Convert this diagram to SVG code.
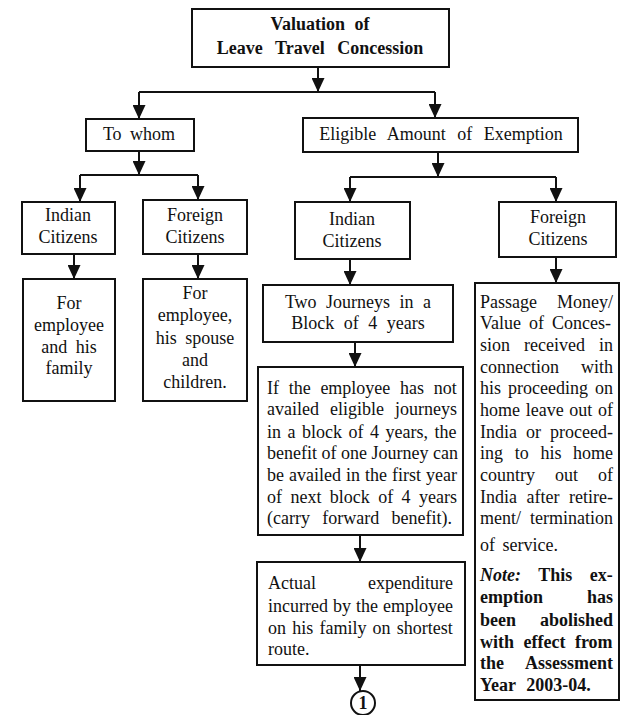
<svg xmlns="http://www.w3.org/2000/svg" width="633" height="715" viewBox="0 0 633 715">
<defs>
<marker id="ah" markerUnits="userSpaceOnUse" markerWidth="14" markerHeight="13" refX="14" refY="6.5" orient="auto" viewBox="0 0 14 13">
<path d="M0,0 L14,6.5 L0,13 Z" fill="#111"/>
</marker>
<style>
.box{fill:#fff;stroke:#111;stroke-width:2}
.ln{fill:none;stroke:#111;stroke-width:2}
.ar{fill:none;stroke:#111;stroke-width:2;marker-end:url(#ah)}
text{font-family:"Liberation Serif","Times New Roman",serif;font-size:18px;fill:#111}
.c{text-anchor:middle}
.e{text-anchor:end}
.b{font-weight:bold}
</style>
</defs>
<rect width="633" height="715" fill="#fff"/>
<g id="connectors">
<path class="ar" d="M318,67 V92"/>
<path class="ln" d="M139,92 H435"/>
<path class="ar" d="M139,92 V119"/>
<path class="ar" d="M435,92 V118"/>
<path class="ar" d="M139,151 V175"/>
<path class="ln" d="M80,175 H198"/>
<path class="ar" d="M80,175 V202"/>
<path class="ar" d="M198,175 V200"/>
<path class="ar" d="M438,152 V177"/>
<path class="ln" d="M350,177 H556"/>
<path class="ar" d="M350,177 V202"/>
<path class="ar" d="M556,177 V202"/>
<path class="ar" d="M74,254 V279"/>
<path class="ar" d="M198,254 V279"/>
<path class="ar" d="M350,259 V285"/>
<path class="ar" d="M556,257 V283"/>
<path class="ar" d="M355,342 V367"/>
<path class="ar" d="M360,535 V562"/>
<path class="ar" d="M360,665 V691"/>
</g>
<g id="title">
<rect class="box" x="192" y="9" width="257" height="58"/>
<text class="c b" x="320" y="30" font-size="19" word-spacing="5">Valuation of</text>
<text class="c b" x="320" y="54" font-size="19" word-spacing="8">Leave Travel Concession</text>
</g>
<g id="to-whom">
<rect class="box" x="86" y="119" width="108" height="32"/>
<text class="c" x="139" y="140" word-spacing="4">To whom</text>
</g>
<g id="eligible">
<rect class="box" x="303" y="118" width="275" height="34"/>
<text class="c" x="441" y="140" word-spacing="7">Eligible Amount of Exemption</text>
</g>
<g id="indian-left">
<rect class="box" x="22" y="202" width="93" height="52"/>
<text class="c" x="68" y="221">Indian</text>
<text class="c" x="68" y="243">Citizens</text>
</g>
<g id="foreign-left">
<rect class="box" x="143" y="200" width="104" height="54"/>
<text class="c" x="195" y="221">Foreign</text>
<text class="c" x="195" y="243">Citizens</text>
</g>
<g id="family-left">
<rect class="box" x="23" y="279" width="92" height="122"/>
<text class="c" x="69" y="309">For</text>
<text class="c" x="69" y="331">employee</text>
<text class="c" x="69" y="353" word-spacing="4">and his</text>
<text class="c" x="69" y="374">family</text>
</g>
<g id="family-foreign">
<rect class="box" x="143" y="279" width="104" height="122"/>
<text class="c" x="195" y="299">For</text>
<text class="c" x="195" y="321">employee,</text>
<text class="c" x="195" y="344" word-spacing="4">his spouse</text>
<text class="c" x="195" y="366">and</text>
<text class="c" x="195" y="388">children.</text>
</g>
<g id="indian-mid">
<rect class="box" x="295" y="202" width="115" height="57"/>
<text class="c" x="352" y="225">Indian</text>
<text class="c" x="352" y="247">Citizens</text>
</g>
<g id="foreign-right">
<rect class="box" x="499" y="202" width="117" height="55"/>
<text class="c" x="558" y="223">Foreign</text>
<text class="c" x="558" y="245">Citizens</text>
</g>
<g id="two-journeys">
<rect class="box" x="263" y="285" width="190" height="57"/>
<text class="c" x="358" y="308" word-spacing="5">Two Journeys in a</text>
<text class="c" x="358" y="329" word-spacing="5">Block of 4 years</text>
</g>
<g id="carry-forward">
<rect class="box" x="258" y="367" width="205" height="168"/>
<text x="267" y="394" word-spacing="5.2">If the employee has not</text>
<text x="267" y="415" word-spacing="6.5">availed eligible journeys</text>
<text x="267" y="438" word-spacing="2">in a block of 4 years, the</text>
<text x="267" y="459">benefit of one Journey can</text>
<text x="267" y="481" word-spacing="0.5">be availed in the first year</text>
<text x="267" y="503" word-spacing="3.9">of next block of 4 years</text>
<text x="267" y="524" word-spacing="7.8">(carry forward benefit).</text>
</g>
<g id="actual">
<rect class="box" x="257" y="562" width="208" height="103"/>
<text x="268" y="589">Actual</text>
<text class="e" x="453" y="589">expenditure</text>
<text x="268" y="612" word-spacing="0.5">incurred by the employee</text>
<text x="268" y="634" word-spacing="1.7">on his family on shortest</text>
<text x="268" y="655">route.</text>
</g>
<g id="passage">
<rect class="box" x="475" y="283" width="144" height="417"/>
<text x="480" y="308">Passage</text><text class="e" x="613" y="308">Money/</text>
<text x="480" y="329" word-spacing="3.5">Value of Conces-</text>
<text x="480" y="351" word-spacing="9.5">sion received in</text>
<text x="480" y="373">connection</text><text class="e" x="613" y="373">with</text>
<text x="480" y="394" word-spacing="2.5">his proceeding on</text>
<text x="480" y="416" word-spacing="1.2">home leave out of</text>
<text x="480" y="438" word-spacing="4.5">India or proceed-</text>
<text x="480" y="459" word-spacing="7.2">ing to his home</text>
<text x="480" y="481" word-spacing="15.5">country out of</text>
<text x="480" y="503" word-spacing="5">India after retire-</text>
<text x="480" y="524" word-spacing="4.5">ment/ termination</text>
<text x="480" y="551" word-spacing="3">of service.</text>
<text class="b" x="480" y="581" word-spacing="13"><tspan font-style="italic">Note:</tspan> This ex-</text>
<text class="b" x="480" y="603">emption</text><text class="b e" x="613" y="603">has</text>
<text class="b" x="480" y="626">been</text><text class="b e" x="613" y="626">abolished</text>
<text class="b" x="480" y="648" word-spacing="5">with effect from</text>
<text class="b" x="480" y="669">the</text><text class="b e" x="613" y="669">Assessment</text>
<text class="b" x="480" y="691" word-spacing="6">Year 2003-04.</text>
</g>
<g id="connector-1">
<circle cx="363" cy="703" r="12" fill="#fff" stroke="#111" stroke-width="2"/>
<text class="c b" x="363" y="709" font-size="15">1</text>
</g>
</svg>
